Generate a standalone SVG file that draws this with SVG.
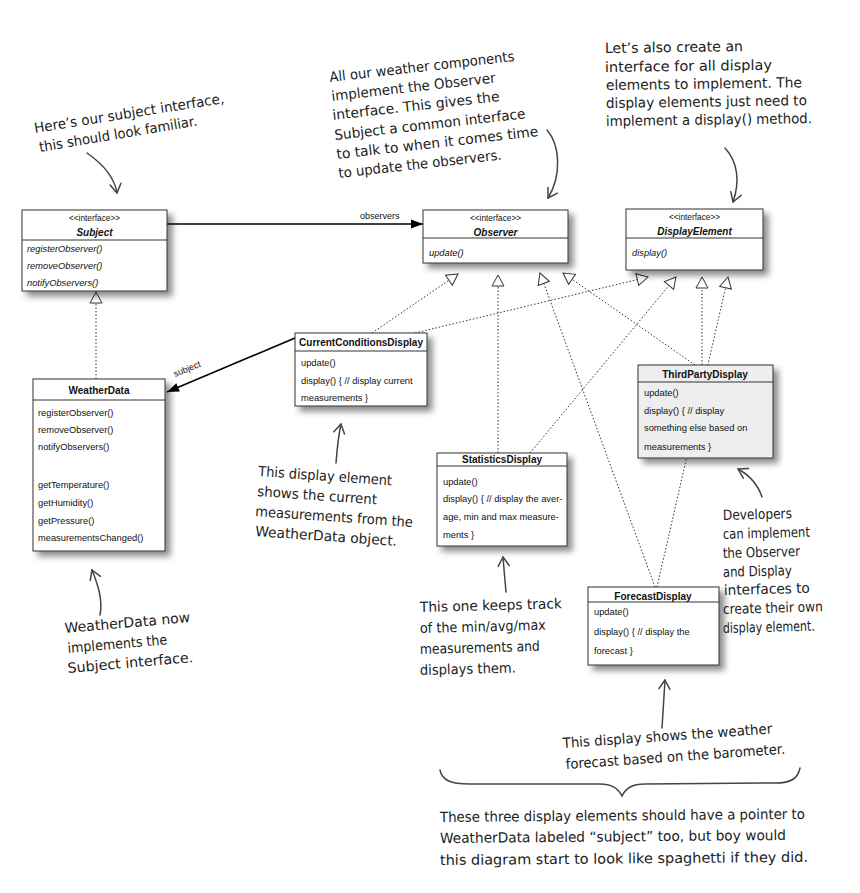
<svg xmlns="http://www.w3.org/2000/svg" width="860" height="893" viewBox="0 0 860 893">
<defs>
<style>
.box{fill:#fff;stroke:#333;stroke-width:1;filter:url(#sh)}
.gray{fill:#eeeeee}
.div{stroke:#333;stroke-width:1}
.t{font-family:"Liberation Sans",Arial,sans-serif;fill:#111}
.st{font-size:8.3px;text-anchor:middle}
.in{font-size:10px;font-weight:bold;font-style:italic;text-anchor:middle}
.cn{font-size:10px;font-weight:bold;text-anchor:middle}
.m{font-size:9.3px}
.mi{font-size:9.3px;font-style:italic}
.dot{stroke:#333;stroke-width:1;stroke-dasharray:1.5 2;fill:none;marker-end:url(#tri)}
.solid{stroke:#000;stroke-width:1.6;fill:none;marker-end:url(#fill)}
.lbl{font-family:"Liberation Sans",Arial,sans-serif;font-size:9px;fill:#111}
.hand{font-family:"DejaVu Sans","Liberation Sans",sans-serif;font-size:14px;fill:#222}
.ha{stroke:#444;stroke-width:1.5;fill:none;stroke-linecap:round;marker-end:url(#open)}
</style>
<filter id="sh" x="-10%" y="-10%" width="130%" height="130%">
<feDropShadow dx="5" dy="5" stdDeviation="3" flood-color="#000" flood-opacity="0.45"/>
</filter>
<marker id="tri" markerUnits="userSpaceOnUse" markerWidth="14" markerHeight="14" orient="auto" overflow="visible" refX="0" refY="0">
<path d="M0,0 L-11,-6 L-11,6 z" fill="#fff" stroke="#333" stroke-width="1"/>
</marker>
<marker id="fill" markerUnits="userSpaceOnUse" markerWidth="14" markerHeight="14" orient="auto" overflow="visible" refX="0" refY="0">
<path d="M0,0 L-12,-4.5 L-12,4.5 z" fill="#000"/>
</marker>
<marker id="open" markerUnits="userSpaceOnUse" markerWidth="14" markerHeight="14" orient="auto" overflow="visible" refX="0" refY="0">
<path d="M-9,-5.5 L0,0 L-9,5.5" fill="none" stroke="#444" stroke-width="1.5" stroke-linecap="round" stroke-linejoin="round"/>
</marker>
</defs>
<rect width="860" height="893" fill="#fff"/>

<g id="connectors">
<line class="solid" x1="167" y1="224" x2="423" y2="224"/>
<text class="lbl" x="360" y="219">observers</text>
<line class="solid" x1="295" y1="338" x2="167" y2="392"/>
<text class="lbl" transform="translate(175,377) rotate(-22)">subject</text>
<line class="dot" x1="96" y1="379" x2="96" y2="292"/>
<line class="dot" x1="372" y1="333" x2="458" y2="274"/>
<line class="dot" x1="498" y1="453" x2="498" y2="275"/>
<line class="dot" x1="655" y1="587" x2="540" y2="273"/>
<line class="dot" x1="695" y1="365" x2="563" y2="273"/>
<line class="dot" x1="415" y1="333" x2="648" y2="277"/>
<line class="dot" x1="530" y1="453" x2="676" y2="277"/>
<line class="dot" x1="702" y1="365" x2="702" y2="277"/>
<line class="dot" x1="657" y1="587" x2="728" y2="277"/>
</g>

<g id="subject">
<rect class="box" x="22" y="210" width="145" height="81"/>
<line class="div" x1="22" y1="240" x2="167" y2="240"/>
<text class="t st" x="94.5" y="221">&lt;&lt;interface&gt;&gt;</text>
<text class="t in" x="94.5" y="236">Subject</text>
<text class="t mi" x="27" y="252">registerObserver()</text>
<text class="t mi" x="27" y="269">removeObserver()</text>
<text class="t mi" x="27" y="286">notifyObservers()</text>
</g>

<g id="observer">
<rect class="box" x="423" y="210" width="145" height="53"/>
<line class="div" x1="423" y1="238" x2="568" y2="238"/>
<text class="t st" x="495.5" y="221">&lt;&lt;interface&gt;&gt;</text>
<text class="t in" x="495.5" y="236">Observer</text>
<text class="t mi" x="429" y="256">update()</text>
</g>

<g id="displayelement">
<rect class="box" x="626" y="209" width="137" height="61"/>
<line class="div" x1="626" y1="238" x2="763" y2="238"/>
<text class="t st" x="694.5" y="220">&lt;&lt;interface&gt;&gt;</text>
<text class="t in" x="694.5" y="235">DisplayElement</text>
<text class="t mi" x="632" y="256">display()</text>
</g>

<g id="currentconditions">
<rect class="box" x="295" y="333" width="132" height="73"/>
<line class="div" x1="295" y1="351" x2="427" y2="351"/>
<text class="t cn" x="361" y="346">CurrentConditionsDisplay</text>
<text class="t m" x="301" y="366">update()</text>
<text class="t m" x="301" y="384">display() { // display current</text>
<text class="t m" x="301" y="401">measurements }</text>
</g>

<g id="weatherdata">
<rect class="box" x="33" y="379" width="132" height="172"/>
<line class="div" x1="33" y1="400" x2="165" y2="400"/>
<text class="t cn" x="99" y="394">WeatherData</text>
<text class="t m" x="38" y="416">registerObserver()</text>
<text class="t m" x="38" y="433">removeObserver()</text>
<text class="t m" x="38" y="450">notifyObservers()</text>
<text class="t m" x="38" y="488">getTemperature()</text>
<text class="t m" x="38" y="506">getHumidity()</text>
<text class="t m" x="38" y="524">getPressure()</text>
<text class="t m" x="38" y="541">measurementsChanged()</text>
</g>

<g id="statistics">
<rect class="box" x="437" y="453" width="130" height="93"/>
<line class="div" x1="437" y1="466" x2="567" y2="466"/>
<text class="t cn" x="502" y="463">StatisticsDisplay</text>
<text class="t m" x="443" y="485">update()</text>
<text class="t m" x="443" y="502">display() { // display the aver-</text>
<text class="t m" x="443" y="520">age, min and max measure-</text>
<text class="t m" x="443" y="538">ments }</text>
</g>

<g id="thirdparty">
<rect class="box gray" x="638" y="365" width="135" height="93"/>
<line class="div" x1="638" y1="382" x2="773" y2="382"/>
<text class="t cn" x="705" y="378">ThirdPartyDisplay</text>
<text class="t m" x="644" y="396">update()</text>
<text class="t m" x="644" y="414">display() { // display</text>
<text class="t m" x="644" y="431">something else based on</text>
<text class="t m" x="644" y="450">measurements }</text>
</g>

<g id="forecast">
<rect class="box" x="588" y="587" width="131" height="78"/>
<line class="div" x1="588" y1="602" x2="719" y2="602"/>
<text class="t cn" x="653" y="600">ForecastDisplay</text>
<text class="t m" x="594" y="615">update()</text>
<text class="t m" x="594" y="635">display() { // display the</text>
<text class="t m" x="594" y="654">forecast }</text>
</g>

<g id="annotations">
<text class="hand" transform="translate(35,133) rotate(-9)" textLength="192" lengthAdjust="spacingAndGlyphs">Here’s our subject interface,</text>
<text class="hand" transform="translate(40,152) rotate(-9.5)" textLength="160" lengthAdjust="spacingAndGlyphs">this should look familiar.</text>
<path class="ha" d="M87,153 C100,162 114,175 117,193"/>

<text class="hand" transform="translate(330,82) rotate(-6.5)" textLength="186" lengthAdjust="spacingAndGlyphs">All our weather components</text>
<text class="hand" transform="translate(332,101) rotate(-6.5)" textLength="165" lengthAdjust="spacingAndGlyphs">implement the Observer</text>
<text class="hand" transform="translate(333,120) rotate(-6.5)" textLength="168" lengthAdjust="spacingAndGlyphs">interface. This gives the</text>
<text class="hand" transform="translate(335,140) rotate(-6.5)" textLength="192" lengthAdjust="spacingAndGlyphs">Subject a common interface</text>
<text class="hand" transform="translate(337,159) rotate(-6.5)" textLength="203" lengthAdjust="spacingAndGlyphs">to talk to when it comes time</text>
<text class="hand" transform="translate(339,178) rotate(-6.5)" textLength="164" lengthAdjust="spacingAndGlyphs">to update the observers.</text>
<path class="ha" d="M547,130 C560,145 562,175 548,198"/>

<text class="hand" transform="translate(605,53) rotate(-0.8)" textLength="138" lengthAdjust="spacingAndGlyphs">Let’s also create an</text>
<text class="hand" transform="translate(605,72) rotate(-0.8)" textLength="167" lengthAdjust="spacingAndGlyphs">interface for all display</text>
<text class="hand" transform="translate(606,90) rotate(-0.8)" textLength="196" lengthAdjust="spacingAndGlyphs">elements to implement. The</text>
<text class="hand" transform="translate(606,108) rotate(-0.8)" textLength="201" lengthAdjust="spacingAndGlyphs">display elements just need to</text>
<text class="hand" transform="translate(606,126) rotate(-0.8)" textLength="206" lengthAdjust="spacingAndGlyphs">implement a display() method.</text>
<path class="ha" d="M725,148 C738,162 740,182 733,202"/>

<text class="hand" transform="translate(258,476) rotate(4)" textLength="134" lengthAdjust="spacingAndGlyphs">This display element</text>
<text class="hand" transform="translate(257,496) rotate(4)" textLength="120" lengthAdjust="spacingAndGlyphs">shows the current</text>
<text class="hand" transform="translate(255,516) rotate(4)" textLength="158" lengthAdjust="spacingAndGlyphs">measurements from the</text>
<text class="hand" transform="translate(255,536) rotate(4)" textLength="142" lengthAdjust="spacingAndGlyphs">WeatherData object.</text>
<path class="ha" d="M336,463 C337,450 338,438 341,424"/>

<text class="hand" transform="translate(65,633) rotate(-5)" textLength="126" lengthAdjust="spacingAndGlyphs">WeatherData now</text>
<text class="hand" transform="translate(68,653) rotate(-5)" textLength="100" lengthAdjust="spacingAndGlyphs">implements the</text>
<text class="hand" transform="translate(68,673) rotate(-5)" textLength="126" lengthAdjust="spacingAndGlyphs">Subject interface.</text>
<path class="ha" d="M100,615 C103,600 98,585 92,570"/>

<text class="hand" transform="translate(420,612) rotate(-1.5)" textLength="142" lengthAdjust="spacingAndGlyphs">This one keeps track</text>
<text class="hand" transform="translate(420,633) rotate(-1.5)" textLength="126" lengthAdjust="spacingAndGlyphs">of the min/avg/max</text>
<text class="hand" transform="translate(420,654) rotate(-1.5)" textLength="120" lengthAdjust="spacingAndGlyphs">measurements and</text>
<text class="hand" transform="translate(420,675) rotate(-1.5)" textLength="96" lengthAdjust="spacingAndGlyphs">displays them.</text>
<path class="ha" d="M506,592 C505,580 504,570 503,557"/>

<text class="hand" transform="translate(723,520) rotate(-1.5)" textLength="69" lengthAdjust="spacingAndGlyphs">Developers</text>
<text class="hand" transform="translate(723,539) rotate(-1.5)" textLength="87" lengthAdjust="spacingAndGlyphs">can implement</text>
<text class="hand" transform="translate(723,558) rotate(-1.5)" textLength="77" lengthAdjust="spacingAndGlyphs">the Observer</text>
<text class="hand" transform="translate(723,577) rotate(-1.5)" textLength="69" lengthAdjust="spacingAndGlyphs">and Display</text>
<text class="hand" transform="translate(724,595) rotate(-1.5)" textLength="86" lengthAdjust="spacingAndGlyphs">interfaces to</text>
<text class="hand" transform="translate(723,614) rotate(-1.5)" textLength="100" lengthAdjust="spacingAndGlyphs">create their own</text>
<text class="hand" transform="translate(723,633) rotate(-1.5)" textLength="92" lengthAdjust="spacingAndGlyphs">display element.</text>
<path class="ha" d="M762,497 C758,485 749,475 738,469"/>

<text class="hand" transform="translate(563,748) rotate(-4)" textLength="210" lengthAdjust="spacingAndGlyphs">This display shows the weather</text>
<text class="hand" transform="translate(566,769) rotate(-4)" textLength="220" lengthAdjust="spacingAndGlyphs">forecast based on the barometer.</text>
<path class="ha" d="M662,728 C663,712 664,696 665,680"/>

<path d="M440,770 C442,780 450,784 470,784 L600,784 C612,784 618,788 622,796 C626,788 632,784 645,784 L775,783 C792,783 798,778 800,768" fill="none" stroke="#444" stroke-width="1.5" stroke-linecap="round"/>

<text class="hand" transform="translate(440,822) rotate(-0.5)" textLength="365" lengthAdjust="spacingAndGlyphs">These three display elements should have a pointer to</text>
<text class="hand" transform="translate(440,843) rotate(-0.5)" textLength="346" lengthAdjust="spacingAndGlyphs">WeatherData labeled “subject” too, but boy would</text>
<text class="hand" transform="translate(440,865) rotate(-0.5)" textLength="368" lengthAdjust="spacingAndGlyphs">this diagram start to look like spaghetti if they did.</text>
</g>
</svg>
